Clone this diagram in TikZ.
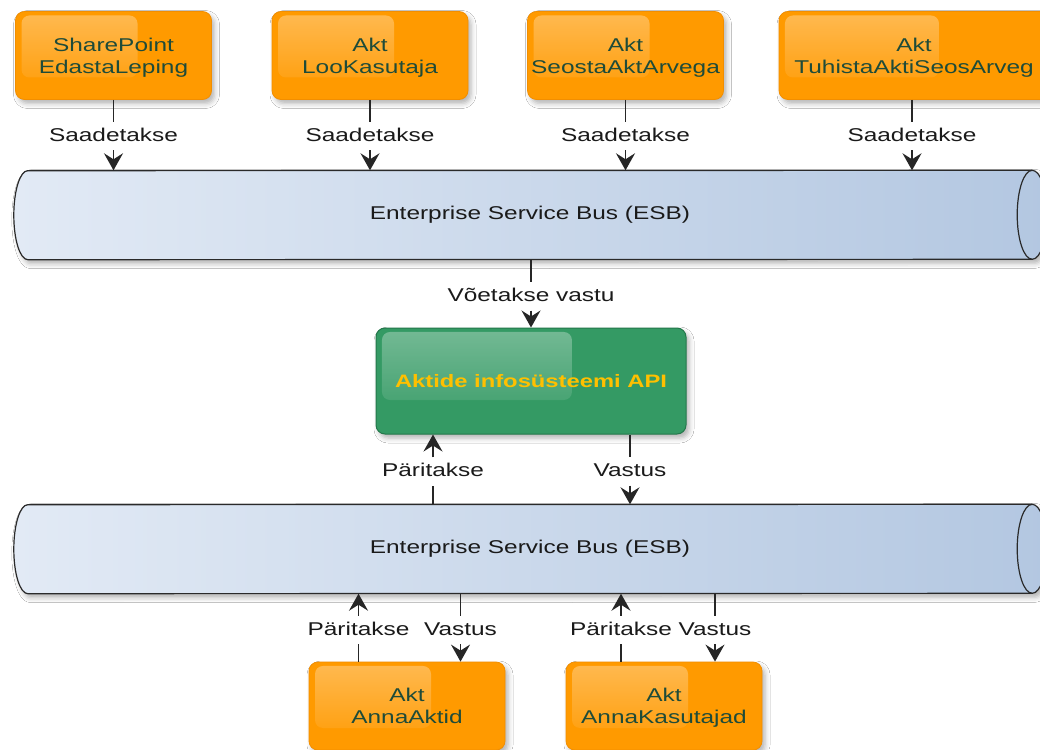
\documentclass[tikz,border=0pt]{standalone}
\usepackage{fontspec}
\setmainfont{Liberation Sans}[FakeStretch=1.32]
\usetikzlibrary{arrows.meta,shadows.blur,fadings}

\definecolor{boxorange}{HTML}{FF9A00}
\definecolor{boxedge}{HTML}{F28E00}
\definecolor{boxtext}{HTML}{1E4B39}
\definecolor{apigreen}{HTML}{349A64}
\definecolor{apiedge}{HTML}{24784B}
\definecolor{apitext}{HTML}{FFC000}
\definecolor{busleft}{HTML}{E2EAF5}
\definecolor{busright}{HTML}{B3C7E1}
\definecolor{busedge}{HTML}{2A2A2A}
\definecolor{labeltext}{HTML}{1A1A1A}

\tikzfading[name=glossfade, top color=transparent!68, bottom color=transparent!100]

\tikzset{
  every node/.style={font=\fontsize{18.5}{21.7}\selectfont},
  softshadow/.style={blur shadow={shadow xshift=3pt, shadow yshift=-4pt,
      shadow blur radius=5pt, shadow opacity=30}},
  % glossy highlight in the upper left part of a box
  glossy/.style 2 args={path picture={
      \fill[white, path fading=glossfade, rounded corners=8pt]
        ([shift={(6pt,-4pt)}]path picture bounding box.north west)
        rectangle ([shift={(#1,-#2)}]path picture bounding box.north west);}},
  service/.style={rounded corners=9pt, fill=boxorange, draw=boxedge,
      line width=0.8pt, minimum width=196pt, minimum height=88pt,
      text=boxtext, align=center, text depth=0pt, softshadow,
      glossy={122pt}{66pt}},
  apibox/.style={rounded corners=9pt, fill=apigreen, draw=apiedge,
      line width=1pt, minimum width=310pt, minimum height=106pt,
      text=apitext, font=\fontsize{18}{21}\selectfont\bfseries, softshadow,
      glossy={196pt}{72pt}},
  busbody/.style={minimum width=1004pt, minimum height=89pt, inner sep=0pt,
      text=labeltext},
  conn/.style={draw=black!85, line width=1.6pt},
  arr/.style={conn, -{Stealth[length=17pt,width=19pt,inset=6pt]}},
  lab/.style={fill=white, text=labeltext, text height=14pt, text depth=4pt,
      inner xsep=3pt, inner ysep=5pt, anchor=base},
}

% horizontal cylinder drawn around a bus node
\newcommand\cylinder[1]{%
  \path[draw=busedge, line width=1.2pt, left color=busleft, right color=busright, softshadow]
    (#1.north east) arc[start angle=90, end angle=-90, x radius=15pt, y radius=44.5pt]
    -- (#1.south west) arc[start angle=-90, end angle=-270, x radius=14pt, y radius=44.5pt]
    -- cycle;
  \draw[busedge, line width=1.2pt]
    (#1.north east) arc[start angle=90, end angle=270, x radius=15pt, y radius=44.5pt];}

\begin{document}
\begin{tikzpicture}[x=1pt, y=-1pt]
\useasboundingbox (0,0) rectangle (1040,749);
\fill[white] (0,0) rectangle (1040,749);
\clip (0,0) rectangle (1040,749);

% senders
\node[service] (b1) at (113.5,55.5) {SharePoint\\EdastaLeping};
\node[service] (b2) at (370,55.5) {Akt\\LooKasutaja};
\node[service] (b3) at (625.5,55.5) {Akt\\SeostaAktArvega};
\node[service, minimum width=270pt, glossy={160pt}{66pt}] (b4) at (914,55.5) {Akt\\TuhistaAktiSeosArveg};

% buses
\node[busbody] (busA) at (530,215) {};
\cylinder{busA}
\node[text=labeltext] (busAtext) at (busA.center) {Enterprise Service Bus (ESB)};

\node[busbody] (busB) at (530,549) {};
\cylinder{busB}
\node[text=labeltext] (busBtext) at (busB.center) {Enterprise Service Bus (ESB)};

% API
\node[apibox] (api) at (531,381) {Aktide infosüsteemi API};

% consumers
\node[service] (k1) at (407,706) {Akt\\AnnaAktid};
\node[service] (k2) at (664,706) {Akt\\AnnaKasutajad};

% senders -> bus
\foreach \b/\x in {b1/113.5, b2/370, b3/625.5, b4/912}{
  \node[lab] (s\b) at (\x,141) {Saadetakse};
  \draw[conn] (s\b.north |- \b.south) -- (s\b.north);
  \draw[arr] (s\b.south) -- (s\b.south |- busA.north);
}

% bus -> API
\node[lab] (recv) at (531,301.5) {Võetakse vastu};
\draw[conn] (recv.north |- busA.south) -- (recv.north);
\draw[arr] (recv.south) -- (api.north);

% API <-> lower bus
\node[lab] (ask) at (433,476.5) {Päritakse};
\node[lab] (ans) at (630,476.5) {Vastus};
\draw[conn] (ask.south |- busB.north) -- (ask.south);
\draw[arr] (ask.north) -- (ask.north |- api.south);
\draw[conn] (ans.north |- api.south) -- (ans.north);
\draw[arr] (ans.south) -- (ans.south |- busB.north);

% consumers <-> lower bus
\foreach \k/\xa/\xb in {k1/358.5/460.5, k2/621/715}{
  \node[lab] (ask\k) at (\xa,635) {Päritakse};
  \node[lab] (ans\k) at (\xb,635) {Vastus};
  \draw[conn] (ask\k.south |- \k.north) -- (ask\k.south);
  \draw[arr] (ask\k.north) -- (ask\k.north |- busB.south);
  \draw[conn] (ans\k.north |- busB.south) -- (ans\k.north);
  \draw[arr] (ans\k.south) -- (ans\k.south |- \k.north);
}
\end{tikzpicture}
\end{document}
